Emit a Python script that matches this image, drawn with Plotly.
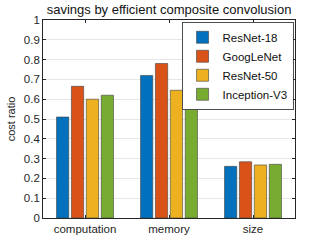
import plotly.graph_objects as go

categories = ["computation", "memory", "size"]
series_names = ["ResNet-18", "GoogLeNet", "ResNet-50", "Inception-V3"]
resnet18 = [0.51, 0.72, 0.261]
googlenet = [0.665, 0.78, 0.284]
resnet50 = [0.60, 0.645, 0.268]
inception = [0.62, 0.73, 0.271]
y_ticks = [0, 0.1, 0.2, 0.3, 0.4, 0.5, 0.6, 0.7, 0.8, 0.9, 1]
y_tick_labels = ["0", "0.1", "0.2", "0.3", "0.4", "0.5", "0.6", "0.7", "0.8", "0.9", "1"]

colors = ["#0072BD", "#D95319", "#EDB120", "#77AC30"]
values = [resnet18, googlenet, resnet50, inception]

font = "Liberation Sans, Arial, sans-serif"
fig = go.Figure()
for name, vals, c in zip(series_names, values, colors):
    fig.add_trace(go.Bar(x=categories, y=vals, name=name,
                         marker=dict(color=c, line=dict(color="#404040", width=0.6))))

fig.update_layout(
    width=327, height=245,
    margin=dict(l=43, r=32, t=20, b=27, autoexpand=False),
    paper_bgcolor="white", plot_bgcolor="white",
    barmode="group", bargap=0.29, bargroupgap=0.18,
    font=dict(family=font, size=11, color="#262626"),
    title=dict(text="savings by efficient composite convolusion", x=0.517, xanchor="center",
               y=0.962, yanchor="middle", font=dict(size=13, color="#111", family=font)),
    legend=dict(x=0.995, xanchor="right", y=0.99, yanchor="top",
                bgcolor="white", bordercolor="#222", borderwidth=0.8,
                font=dict(size=11.5, color="#111", family=font),
                tracegroupgap=0, itemwidth=30),
    showlegend=True,
)
fig.update_xaxes(showline=True, linecolor="#262626", linewidth=0.8, mirror="ticks",
                 ticks="inside", ticklen=3, tickcolor="#262626", automargin=False,
                 tickfont=dict(size=11.5, color="#262626"), showgrid=False)
fig.update_yaxes(range=[0, 1], tickvals=y_ticks, ticktext=y_tick_labels, automargin=False,
                 showline=True, linecolor="#262626", linewidth=0.8, mirror="ticks",
                 ticks="inside", ticklen=3, tickcolor="#262626",
                 showgrid=True, gridcolor="#E6E6E6", gridwidth=1, zeroline=False,
                 tickfont=dict(size=11.5, color="#262626"),
                 title=dict(text="cost ratio", font=dict(size=11, color="#262626"), standoff=5))

fig.write_html("out.html", config={"displayModeBar": False},
               post_script="document.body.style.margin='0';document.body.style.padding='0';")
